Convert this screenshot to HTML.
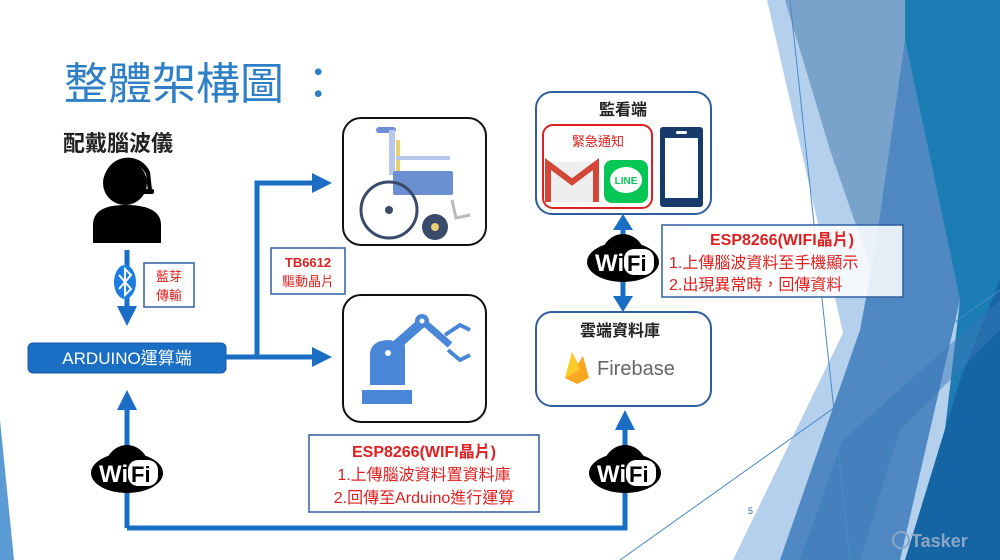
<!DOCTYPE html>
<html><head><meta charset="utf-8"><style>
html,body{margin:0;padding:0;background:#fff}
svg{display:block}
text{font-family:"Liberation Sans","Noto Sans CJK TC",sans-serif}
</style></head><body>
<svg width="1000" height="560" viewBox="0 0 1000 560" xmlns="http://www.w3.org/2000/svg">
<defs>
<marker id="ah" markerWidth="4" markerHeight="4" refX="2" refY="2" orient="auto" markerUnits="strokeWidth"><path d="M0,0 L4,2 L0,4 z" fill="#1a6fc4"/></marker>
<g id="wifi">
<ellipse cx="0" cy="0" rx="36" ry="20" fill="#000"/>
<ellipse cx="0" cy="-4" rx="22" ry="24" fill="#000"/>
<text x="-28" y="9" font-size="24" font-weight="bold" fill="#fff">Wi</text>
<rect x="1" y="-13" width="30" height="26" rx="10" fill="#fff"/>
<text x="4" y="9" font-size="22" font-weight="bold" fill="#000">Fi</text>
</g>
</defs>
<!-- background right -->
<polygon points="767,0 1000,0 1000,560 733,560 843,333" fill="#b4d0ec"/>
<polygon points="785,0 905,0 905,60 875,280 830,150" fill="#7aa3cc"/>
<polygon points="905,40 960,300 900,560 780,560 860,330 875,250" fill="#4f88c2"/>
<polygon points="905,0 1000,0 1000,560 930,560 960,300 905,40" fill="#1b7db3"/>
<polygon points="1000,280 1000,560 905,560 960,380" fill="#1565a5"/>
<polygon points="843,440 1000,300 1000,330 900,430 860,560 800,560" fill="#3a78b8" fill-opacity="0.5"/>
<line x1="790" y1="0" x2="850" y2="560" stroke="#4a8ac8" stroke-width="1"/>
<line x1="620" y1="560" x2="1000" y2="290" stroke="#4a8ac8" stroke-width="1"/>
<polygon points="0,420 14,560 0,560" fill="#5b9bd5"/>
<!-- title -->
<text x="64" y="99" font-size="44" fill="#2f7fc6">整體架構圖 ：</text>
<text x="63" y="151" font-size="22" font-weight="bold" fill="#222">配戴腦波儀</text>
<!-- person -->
<circle cx="125" cy="183" r="22" fill="#000"/>
<path d="M106,172 A24,24 0 0 1 150,172 L152,190 L148,192 L146,174 A21,21 0 0 0 110,172 z" fill="#000"/>
<rect x="138" y="189" width="16" height="5" rx="2" fill="#000"/>
<path d="M93,243 L93,225 Q93,205 125,205 Q161,205 161,225 L161,243 z" fill="#000"/>
<!-- bluetooth line -->
<line x1="127" y1="250" x2="127" y2="316" stroke="#1a6fc4" stroke-width="5" marker-end="url(#ah)"/>
<ellipse cx="125" cy="282" rx="11" ry="17" fill="#1a7fe0"/>
<path d="M119,275 L131,289 L125,295 L125,269 L131,275 L119,289" stroke="#fff" stroke-width="2" fill="none"/>
<rect x="144" y="263" width="50" height="44" fill="#fff" stroke="#2f5f9f" stroke-width="1.5"/>
<text x="169" y="281" font-size="13" fill="#e02020" text-anchor="middle">藍芽</text>
<text x="169" y="300" font-size="13" fill="#e02020" text-anchor="middle">傳輸</text>
<!-- arduino -->
<rect x="28" y="343" width="198" height="30" rx="5" fill="#1a6fc4" stroke="#175aa0"/>
<text x="127" y="364" font-size="17" fill="#fff" text-anchor="middle">ARDUINO運算端</text>
<path d="M226,357 L322,357" stroke="#1a6fc4" stroke-width="5" marker-end="url(#ah)"/>
<path d="M257,357 L257,183 L322,183" stroke="#1a6fc4" stroke-width="5" fill="none" marker-end="url(#ah)"/>
<rect x="271" y="248" width="74" height="46" fill="#fff" stroke="#2f5f9f" stroke-width="1.5"/>
<text x="308" y="267" font-size="13" fill="#e02020" text-anchor="middle" font-weight="bold">TB6612</text>
<text x="308" y="286" font-size="13" fill="#e02020" text-anchor="middle">驅動晶片</text>
<!-- wheelchair box -->
<rect x="343" y="118" width="143" height="127" rx="18" fill="#fff" stroke="#111" stroke-width="2"/>
<rect x="376" y="127" width="20" height="6" rx="3" fill="#6b8fd8"/>
<rect x="389" y="130" width="6" height="45" fill="#b8c8ec"/>
<rect x="396" y="140" width="4" height="35" fill="#e8d070"/>
<rect x="396" y="156" width="54" height="4" fill="#b8c8ec"/>
<rect x="393" y="171" width="60" height="24" rx="2" fill="#6b8fd0"/>
<circle cx="389" cy="210" r="28" fill="none" stroke="#3a4a6a" stroke-width="3"/>
<circle cx="389" cy="210" r="4" fill="#3a4a6a"/>
<circle cx="435" cy="227" r="13" fill="#3a4a6a"/>
<circle cx="435" cy="227" r="4" fill="#e8d070"/>
<path d="M452,200 L456,218 L470,215" stroke="#bbb" stroke-width="3" fill="none"/>
<!-- robot box -->
<rect x="343" y="295" width="143" height="127" rx="18" fill="#fff" stroke="#111" stroke-width="2"/>
<path d="M370,385 L370,355 Q370,340 390,340 L405,345 L405,385 z" fill="#4a86d8"/>
<path d="M385,355 L425,320" stroke="#4a86d8" stroke-width="10"/>
<circle cx="388" cy="353" r="8" fill="#4a86d8"/><circle cx="388" cy="353" r="3" fill="#fff"/>
<circle cx="422" cy="321" r="7" fill="#4a86d8"/><circle cx="422" cy="321" r="2.5" fill="#fff"/>
<path d="M426,324 L450,345" stroke="#4a86d8" stroke-width="7"/>
<path d="M445,335 L460,325 L470,330 M448,350 L460,360 L470,355" stroke="#4a86d8" stroke-width="4" fill="none"/>
<rect x="362" y="390" width="50" height="14" fill="#4a86d8"/>
<!-- bottom loop -->
<path d="M127,528 L127,400" stroke="#1a6fc4" stroke-width="5" fill="none" marker-end="url(#ah)"/>
<path d="M127,528 L625,528 L625,420" stroke="#1a6fc4" stroke-width="5" fill="none" marker-end="url(#ah)"/>
<use href="#wifi" x="127" y="473"/>
<use href="#wifi" x="625" y="473"/>
<rect x="309" y="435" width="230" height="77" fill="#fff" stroke="#2f5f9f" stroke-width="1.5"/>
<text x="424" y="457" font-size="16" font-weight="bold" fill="#e02020" text-anchor="middle">ESP8266(WIFI晶片)</text>
<text x="424" y="480" font-size="16" fill="#e02020" text-anchor="middle">1.上傳腦波資料置資料庫</text>
<text x="424" y="503" font-size="16" fill="#e02020" text-anchor="middle">2.回傳至Arduino進行運算</text>
<!-- monitor -->
<rect x="536" y="92" width="175" height="122" rx="16" fill="#fff" stroke="#2f5f9f" stroke-width="2"/>
<text x="623" y="115" font-size="16" font-weight="bold" fill="#222" text-anchor="middle">監看端</text>
<rect x="543" y="125" width="109" height="83" rx="10" fill="#fff" stroke="#e02020" stroke-width="2"/>
<text x="598" y="146" font-size="13" fill="#e02020" text-anchor="middle">緊急通知</text>
<rect x="546" y="162" width="52" height="40" fill="#eee"/>
<path d="M548,202 L548,164 L572,182 L596,164 L596,202" stroke="#d44638" stroke-width="6" fill="none"/>
<rect x="604" y="160" width="44" height="43" rx="8" fill="#06c755"/>
<ellipse cx="626" cy="180" rx="16" ry="13" fill="#fff"/>
<text x="626" y="184" font-size="10" font-weight="bold" fill="#06c755" text-anchor="middle">LINE</text>
<rect x="660" y="127" width="43" height="80" rx="3" fill="#163a6a"/>
<rect x="665" y="138" width="33" height="60" fill="#fff"/>
<rect x="676" y="131" width="11" height="3" rx="1.5" fill="#fff"/>
<!-- double arrow -->
<path d="M623,228 L623,300" stroke="#1a6fc4" stroke-width="5"/>
<polygon points="613,230 623,214 633,230" fill="#1a6fc4"/>
<polygon points="613,296 623,312 633,296" fill="#1a6fc4"/>
<use href="#wifi" x="623" y="262"/>
<rect x="662" y="225" width="241" height="72" fill="#fff" fill-opacity="0.85" stroke="#2f5f9f" stroke-width="1.5"/>
<text x="782" y="245" font-size="16" font-weight="bold" fill="#e02020" text-anchor="middle">ESP8266(WIFI晶片)</text>
<text x="669" y="268" font-size="16" fill="#e02020">1.上傳腦波資料至手機顯示</text>
<text x="669" y="290" font-size="16" fill="#e02020">2.出現異常時，回傳資料</text>
<!-- cloud -->
<rect x="536" y="312" width="175" height="94" rx="16" fill="#fff" stroke="#2f5f9f" stroke-width="2"/>
<text x="620" y="336" font-size="16" font-weight="bold" fill="#222" text-anchor="middle">雲端資料庫</text>
<path d="M565,378 L572,352 L578,364 L583,356 L589,378 L577,384 z" fill="#f6a821"/>
<path d="M565,378 L572,352 L580,370 z" fill="#ffcb2b"/>
<text x="597" y="375" font-size="20" fill="#666">Firebase</text>
<!-- page num / logo -->
<text x="748" y="514" font-size="9" fill="#2f5f9f">5</text>
<circle cx="901" cy="540" r="8" fill="none" stroke="#8aa6c4" stroke-width="2"/>
<text x="911" y="547" font-size="18" font-weight="bold" fill="#8aa6c4">Tasker</text>
</svg>
</body></html>
